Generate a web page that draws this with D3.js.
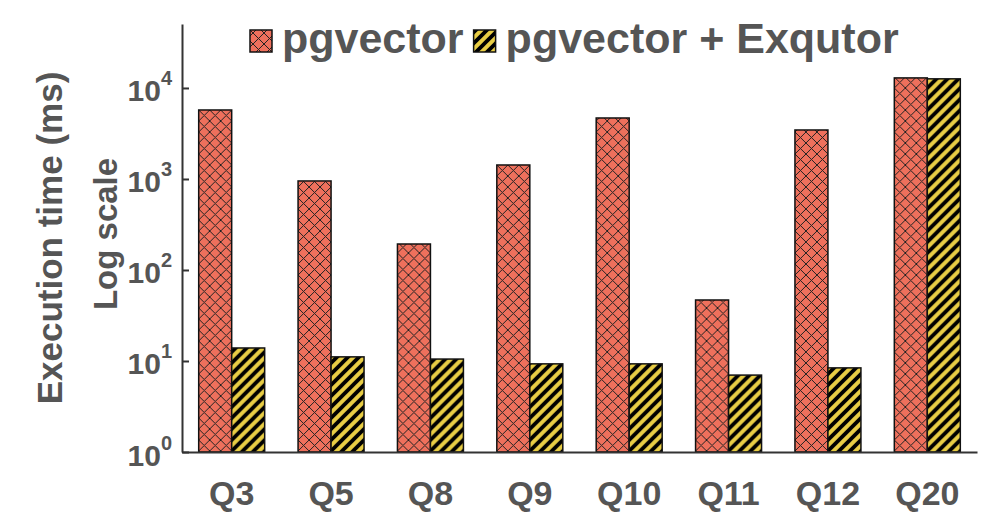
<!DOCTYPE html>
<meta charset="utf-8">
<style>
body { margin: 0; background: #fff; }
svg { font-family: "Liberation Sans", Arial, sans-serif; font-weight: bold; }
.lbl { fill: #555; }
</style>
<body>
<script src="https://cdn.jsdelivr.net/npm/d3@7"></script>
<script>

var queries = ["Q3", "Q5", "Q8", "Q9", "Q10", "Q11", "Q12", "Q20"];
var seriesNames = ["pgvector", "pgvector + Exqutor"];
var pgvector = [5730, 951, 193, 1425, 4680, 46.8, 3455, 12900];
var exqutor = [13.9, 11.1, 10.5, 9.3, 9.3, 7.0, 8.4, 12600];
var yTicks = [1, 10, 100, 1000, 10000];

var width = 997, height = 522;
var plotLeft = 182, plotRight = 977, plotTop = 24, plotBottom = 452;

var svg = d3.select("body").append("svg")
  .attr("width", width)
  .attr("height", height);

// hatch patterns
var defs = svg.append("defs");
var cross = defs.append("pattern")
  .attr("id", "cross")
  .attr("patternUnits", "userSpaceOnUse")
  .attr("width", 11).attr("height", 11);
cross.append("rect").attr("width", 11).attr("height", 11).attr("fill", "#ee705c");
cross.append("path")
  .attr("d", "M0,0L11,11M11,0L0,11")
  .attr("stroke", "#222").attr("stroke-width", 1);

var stripe = defs.append("pattern")
  .attr("id", "stripe")
  .attr("patternUnits", "userSpaceOnUse")
  .attr("width", 11).attr("height", 11);
stripe.append("rect").attr("width", 11).attr("height", 11).attr("fill", "#e8cd45");
stripe.append("path")
  .attr("d", "M-3,3L3,-3M0,11L11,0M8,14L14,8")
  .attr("stroke", "#000").attr("stroke-width", 3.8);

var fills = ["url(#cross)", "url(#stripe)"];

var x = d3.scaleBand()
  .domain(queries)
  .range([plotLeft, plotRight])
  .paddingInner(0.336)
  .paddingOuter(0.168);

var xs = d3.scaleBand()
  .domain([0, 1])
  .range([0, x.bandwidth()]);

var y = d3.scaleLog()
  .domain([1, Math.pow(10, 4.703)])
  .range([plotBottom, plotTop]);

var rows = queries.map(function (q, i) {
  return { q: q, vals: [pgvector[i], exqutor[i]] };
});

var g = svg.selectAll("g.grp")
  .data(rows)
  .enter().append("g")
  .attr("class", "grp")
  .attr("transform", function (d) { return "translate(" + x(d.q) + ",0)"; });

g.selectAll("rect")
  .data(function (d) { return d.vals; })
  .enter().append("rect")
  .attr("x", function (d, i) { return xs(i); })
  .attr("width", xs.bandwidth())
  .attr("y", function (d) { return y(d); })
  .attr("height", function (d) { return plotBottom - y(d); })
  .attr("fill", function (d, i) { return fills[i]; })
  .attr("stroke", "#111")
  .attr("stroke-width", 1.5);

// y axis
var yAxis = svg.append("g")
  .attr("transform", "translate(" + plotLeft + ",0)")
  .call(d3.axisLeft(y).tickValues(yTicks).tickSize(-7).tickSizeOuter(0).tickPadding(10));
yAxis.select(".domain").attr("stroke", "#333").attr("stroke-width", 2);
yAxis.selectAll(".tick line").attr("stroke", "#333").attr("stroke-width", 2);
yAxis.selectAll(".tick text").each(function (d) {
  var t = d3.select(this);
  t.text(null)
    .attr("class", "lbl")
    .attr("font-size", 30)
    .attr("dy", 13);
  t.append("tspan").text("10");
  t.append("tspan").attr("dy", -16).attr("font-size", 20).text(Math.round(Math.log10(d)));
});

// x axis
var xAxis = svg.append("g")
  .attr("transform", "translate(0," + plotBottom + ")")
  .call(d3.axisBottom(x).tickSize(0).tickPadding(29));
xAxis.select(".domain").attr("stroke", "#333").attr("stroke-width", 2);
xAxis.selectAll(".tick text")
  .attr("class", "lbl")
  .attr("font-size", 34);

// y title
svg.append("text")
  .attr("class", "lbl")
  .attr("font-size", 35)
  .attr("text-anchor", "middle")
  .attr("transform", "translate(62,238) rotate(-90)")
  .text("Execution time (ms)");
svg.append("text")
  .attr("class", "lbl")
  .attr("font-size", 33)
  .attr("text-anchor", "middle")
  .attr("transform", "translate(117,234) rotate(-90)")
  .text("Log scale");

// legend
var lx = 250;
seriesNames.forEach(function (name, i) {
  svg.append("rect")
    .attr("x", lx).attr("y", 30)
    .attr("width", 22).attr("height", 22)
    .attr("fill", fills[i])
    .attr("stroke", "#111").attr("stroke-width", 1.5);
  var t = svg.append("text")
    .attr("class", "lbl")
    .attr("font-size", 43)
    .attr("x", lx + 32).attr("y", 53)
    .text(name);
  lx += 32 + t.node().getComputedTextLength() + 10;
});

</script>
